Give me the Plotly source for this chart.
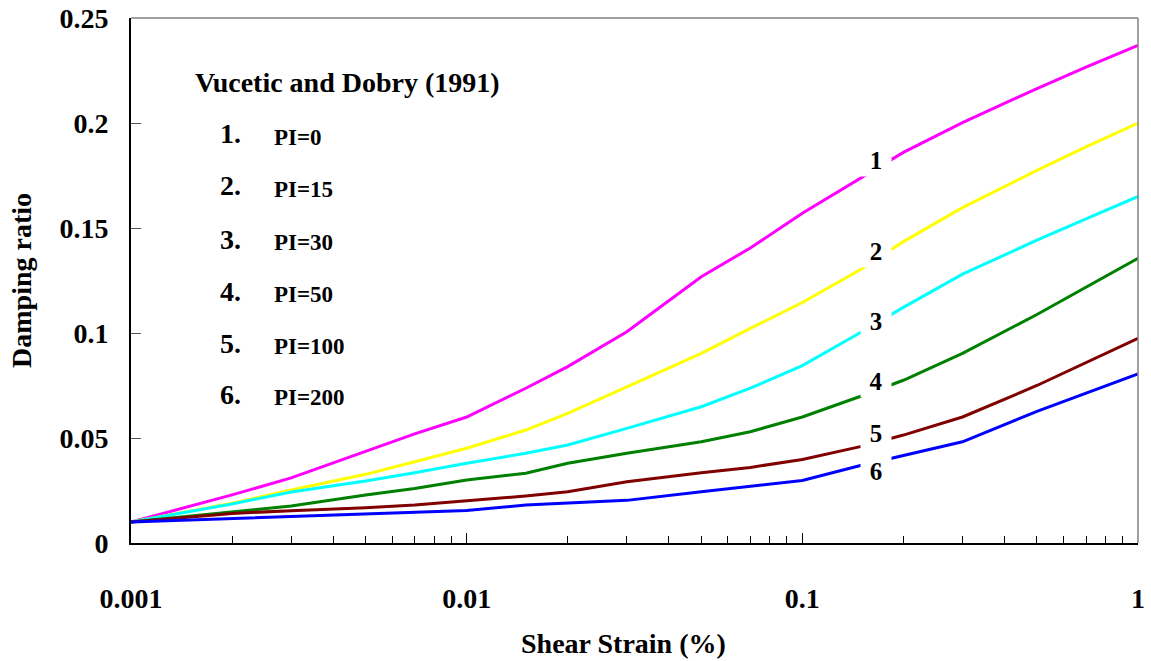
import plotly.graph_objects as go

# shear strain (%) at which the curves were read
strain = [0.001, 0.002, 0.003, 0.005, 0.007, 0.01, 0.015, 0.02, 0.03, 0.05,
          0.07, 0.1, 0.15, 0.2, 0.3, 0.5, 0.7, 1.0]

pi0 = [0.010, 0.0229, 0.031, 0.0435, 0.052, 0.060, 0.0737, 0.084, 0.1006, 0.1268,
       0.1405, 0.157, 0.174, 0.186, 0.2002, 0.2164, 0.2266, 0.237]
pi15 = [0.010, 0.0189, 0.0252, 0.0327, 0.0387, 0.0451, 0.0538, 0.0617, 0.0744, 0.0903,
        0.1022, 0.1145, 0.1305, 0.1435, 0.1597, 0.1774, 0.1886, 0.200]
pi30 = [0.010, 0.0186, 0.0243, 0.0295, 0.0335, 0.038, 0.0427, 0.0467, 0.0546, 0.0649,
        0.0737, 0.0845, 0.1005, 0.1122, 0.128, 0.1442, 0.1544, 0.165]
pi50 = [0.010, 0.0149, 0.0176, 0.0229, 0.026, 0.030, 0.0332, 0.038, 0.0427, 0.0482,
        0.053, 0.060, 0.070, 0.0775, 0.0903, 0.1088, 0.122, 0.1356]
pi100 = [0.010, 0.0141, 0.0154, 0.0168, 0.0181, 0.0201, 0.0224, 0.0244, 0.0292, 0.0335,
         0.036, 0.0398, 0.046, 0.0514, 0.060, 0.075, 0.086, 0.0975]
pi200 = [0.010, 0.0117, 0.0125, 0.0137, 0.0145, 0.0155, 0.0181, 0.019, 0.0203, 0.0244,
         0.0271, 0.0298, 0.037, 0.0415, 0.0482, 0.0627, 0.0714, 0.0805]

series = [pi0, pi15, pi30, pi50, pi100, pi200]
names = ["PI=0", "PI=15", "PI=30", "PI=50", "PI=100", "PI=200"]
colors = ["#FF00FF", "#FFFF00", "#00FFFF", "#008000", "#800000", "#0000FF"]

# curve number labels placed on the curves
label_x = 0.1656
label_y = [0.1824, 0.139, 0.1057, 0.0771, 0.0524, 0.0343]

xticks = [0.001, 0.01, 0.1, 1]
xticktext = ["0.001", "0.01", "0.1", "1"]

serif = "Liberation Serif, Times New Roman, serif"

fig = go.Figure()
for ys, nm, c in zip(series, names, colors):
    fig.add_trace(go.Scatter(x=strain, y=ys, mode='lines', name=nm,
                             line=dict(color=c, width=3), showlegend=False))

for i, ly in enumerate(label_y):
    fig.add_annotation(x=-0.781, y=ly, text=str(i + 1), showarrow=False,
                       bgcolor='white', width=28, height=30,
                       font=dict(family=serif, size=25, color='black', weight='bold'))

# legend block drawn as text
fig.add_annotation(xref='paper', yref='paper', x=0.0616, y=(543 - 82) / 525,
                   xanchor='left', yanchor='middle',
                   text="Vucetic and Dobry (1991)", showarrow=False,
                   font=dict(family=serif, size=28, color='black', weight='bold'))
leg_y = [134, 186, 239, 291, 343, 394]
for i, (nm, py) in enumerate(zip(names, leg_y)):
    yp = (543 - py) / 525
    fig.add_annotation(xref='paper', yref='paper', x=0.0993, y=yp,
                       xanchor='center', yanchor='middle',
                       text=f"{i + 1}.", showarrow=False,
                       font=dict(family=serif, size=28, color='black', weight='bold'))
    fig.add_annotation(xref='paper', yref='paper', x=0.140, y=yp - 0.006,
                       xanchor='left', yanchor='middle',
                       text=nm, showarrow=False,
                       font=dict(family=serif, size=23, color='black', weight='bold'))

# x axis title, placed slightly left of centre as in the original
fig.add_annotation(xref='paper', yref='paper', x=(623 - 131) / 1007, y=(543 - 643) / 525,
                   xanchor='center', yanchor='middle', text="Shear Strain (%)",
                   showarrow=False,
                   font=dict(family=serif, size=28, color='black', weight='bold'))

# thin grey top and right frame
fig.add_shape(type='line', xref='paper', yref='paper', x0=0, x1=1, y0=1, y1=1,
              line=dict(color='#808080', width=1.5))
fig.add_shape(type='line', xref='paper', yref='paper', x0=1, x1=1, y0=0, y1=1,
              line=dict(color='#808080', width=1.5))

fig.update_layout(
    width=1151, height=661,
    margin=dict(l=131, r=13, t=18, b=118),
    plot_bgcolor='white', paper_bgcolor='white',
    font=dict(family=serif, size=28, color='black', weight='bold'),
    xaxis=dict(type='log', range=[-3, 0], tickvals=xticks, ticktext=xticktext,
               automargin=False, ticklabeloverflow='allow',
               showgrid=False, zeroline=False, showline=True, linecolor='black', linewidth=2,
               ticks='inside', ticklen=10, tickcolor='black', tickwidth=1,
               ticklabelstandoff=29,
               minor=dict(ticks='inside', ticklen=7, dtick='D1', tickcolor='black', showgrid=False)),
    yaxis=dict(range=[0, 0.25], dtick=0.05, showgrid=False, zeroline=False,
               automargin=False, ticklabeloverflow='allow',
               showline=True, linecolor='black', linewidth=2,
               ticks='inside', ticklen=10, tickcolor='#555555', tickwidth=1,
               ticklabelstandoff=15,
               title=dict(text="Damping ratio", standoff=20,
                          font=dict(family=serif, size=28, weight='bold'))),
)

# drop the default page margin so the figure fills the window exactly
fig.write_html("out.html", config={'displayModeBar': False},
               post_script="document.body.style.margin='0px';")
